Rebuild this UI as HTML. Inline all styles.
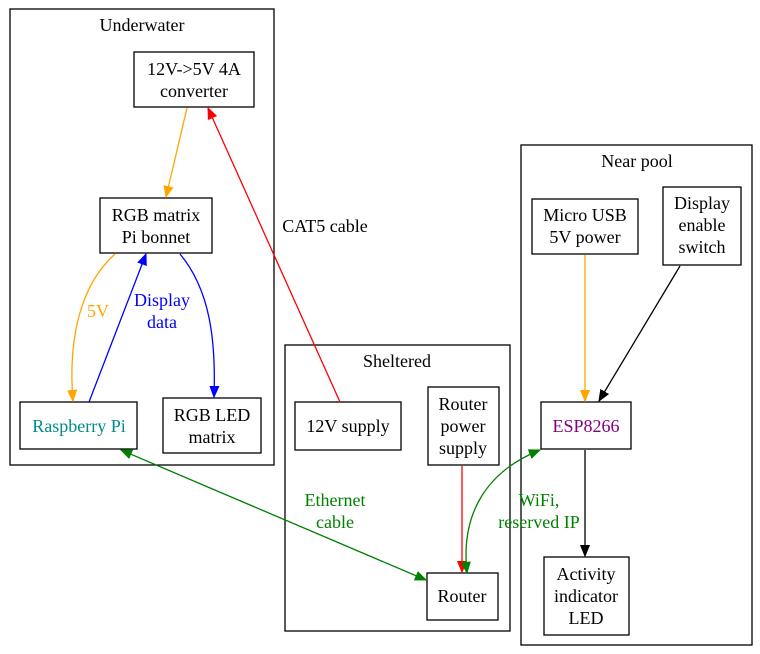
<!DOCTYPE html>
<html><head><meta charset="utf-8"><style>
body{margin:0;background:#fff;width:760px;height:654px;overflow:hidden}
svg{display:block}
text{font-family:"Liberation Serif",serif;font-size:18px;text-anchor:middle}
</style></head><body>
<svg width="760" height="654" viewBox="0 0 760 654" xmlns="http://www.w3.org/2000/svg">
<defs>
<marker id="mo" markerWidth="12" markerHeight="12" refX="11" refY="6" orient="auto" markerUnits="userSpaceOnUse"><path d="M0,1.5 L11,6 L0,10.5 Z" fill="orange" stroke="orange"/></marker>
<marker id="mb" markerWidth="12" markerHeight="12" refX="11" refY="6" orient="auto" markerUnits="userSpaceOnUse"><path d="M0,1.5 L11,6 L0,10.5 Z" fill="blue" stroke="blue"/></marker>
<marker id="mr" markerWidth="12" markerHeight="12" refX="11" refY="6" orient="auto" markerUnits="userSpaceOnUse"><path d="M0,1.5 L11,6 L0,10.5 Z" fill="red" stroke="red"/></marker>
<marker id="mg" markerWidth="12" markerHeight="12" refX="11" refY="6" orient="auto" markerUnits="userSpaceOnUse"><path d="M0,1.5 L11,6 L0,10.5 Z" fill="green" stroke="green"/></marker>
<marker id="mgs" markerWidth="12" markerHeight="12" refX="1" refY="6" orient="auto" markerUnits="userSpaceOnUse"><path d="M12,1.5 L1,6 L12,10.5 Z" fill="green" stroke="green"/></marker>
<marker id="mk" markerWidth="12" markerHeight="12" refX="11" refY="6" orient="auto" markerUnits="userSpaceOnUse"><path d="M0,1.5 L11,6 L0,10.5 Z" fill="black" stroke="black"/></marker>
</defs>
<g fill="none" stroke="#000" stroke-width="1.3">
<rect x="10" y="9" width="264" height="456"/>
<rect x="285" y="345" width="225" height="286"/>
<rect x="521" y="145" width="231" height="500"/>
<rect x="134" y="52" width="120" height="55"/>
<rect x="100" y="198" width="112" height="55"/>
<rect x="20" y="402" width="117" height="47"/>
<rect x="163" y="398" width="98" height="55"/>
<rect x="295" y="402" width="106" height="48"/>
<rect x="428" y="387" width="71" height="78"/>
<rect x="427" y="573" width="71" height="47"/>
<rect x="532" y="199" width="106" height="55"/>
<rect x="663" y="187" width="78" height="78"/>
<rect x="541" y="402" width="90" height="47"/>
<rect x="544" y="557" width="85" height="78"/>
</g>
<g fill="none" stroke-width="1.3">
<path d="M187,108 L166,197" stroke="orange" marker-end="url(#mo)"/>
<path d="M115,254 C80,285 68,340 73,401" stroke="orange" marker-end="url(#mo)"/>
<path d="M89,402 L146,254" stroke="blue" marker-end="url(#mb)"/>
<path d="M180,254 C210,290 216,340 214,397" stroke="blue" marker-end="url(#mb)"/>
<path d="M340,402 L208,108" stroke="red" marker-end="url(#mr)"/>
<path d="M121,450 L426,580" stroke="green" marker-start="url(#mgs)" marker-end="url(#mg)"/>
<path d="M462,466 L462,572" stroke="red" marker-end="url(#mr)"/>
<path d="M467,573 C460,510 490,470 540,450" stroke="green" marker-start="url(#mgs)" marker-end="url(#mg)"/>
<path d="M585,255 L585,401" stroke="orange" marker-end="url(#mo)"/>
<path d="M680,266 L599,401" stroke="black" marker-end="url(#mk)"/>
<path d="M585,450 L585,556" stroke="black" marker-end="url(#mk)"/>
</g>
<text x="142" y="31">Underwater</text>
<text x="397" y="367">Sheltered</text>
<text x="637" y="167">Near pool</text>
<text x="194" y="75">12V-&gt;5V 4A</text>
<text x="194" y="97">converter</text>
<text x="156" y="221">RGB matrix</text>
<text x="156" y="243">Pi bonnet</text>
<text x="79" y="432" fill="#008b8b">Raspberry Pi</text>
<text x="212" y="421">RGB LED</text>
<text x="212" y="443">matrix</text>
<text x="348" y="432">12V supply</text>
<text x="463" y="410">Router</text>
<text x="463" y="432">power</text>
<text x="463" y="454">supply</text>
<text x="462" y="602">Router</text>
<text x="585" y="221">Micro USB</text>
<text x="585" y="243">5V power</text>
<text x="702" y="209">Display</text>
<text x="702" y="231">enable</text>
<text x="702" y="253">switch</text>
<text x="586" y="432" fill="#800080">ESP8266</text>
<text x="586" y="580">Activity</text>
<text x="586" y="602">indicator</text>
<text x="586" y="624">LED</text>
<text x="98" y="317" fill="orange">5V</text>
<text x="162" y="306" fill="blue">Display</text>
<text x="162" y="328" fill="blue">data</text>
<text x="325" y="232">CAT5 cable</text>
<text x="335" y="506" fill="green">Ethernet</text>
<text x="335" y="528" fill="green">cable</text>
<text x="539" y="506" fill="green">WiFi,</text>
<text x="539" y="528" fill="green">reserved IP</text>
</svg>
</body></html>
